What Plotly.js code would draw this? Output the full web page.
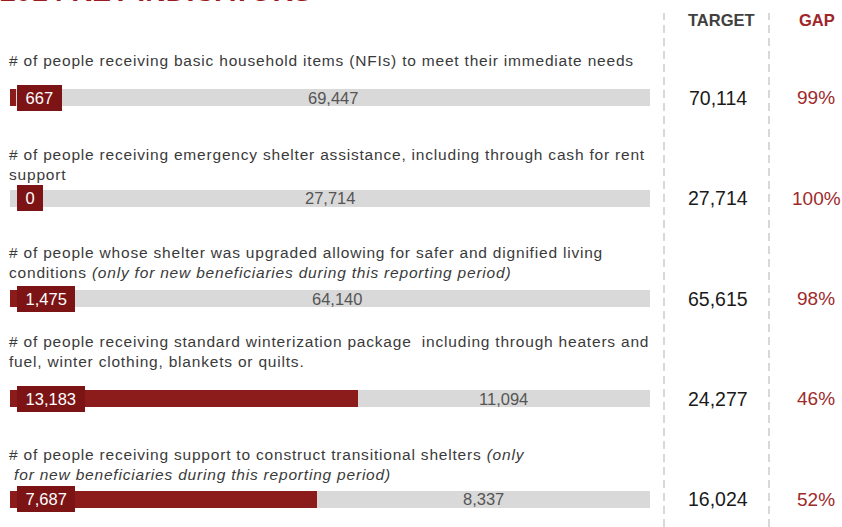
<!DOCTYPE html>
<html>
<head>
<meta charset="utf-8">
<script src="https://cdn.plot.ly/plotly-3.0.1.min.js"></script>
<style>
html,body{margin:0;padding:0;background:#fff;}
#chart{width:842px;height:527px;}
.annotation[data-index="0"] text, .annotation[data-index="1"] text, .annotation[data-index="2"] text,
.annotation[data-index="3"] text, .annotation[data-index="4"] text { letter-spacing: 0.8px; }
</style>
</head>
<body>
<div id="chart"></div>
<script>
// ---- data ----
const categories = ['NFIs', 'Emergency shelter', 'Shelter upgrade', 'Winterization', 'Transitional shelter'];
const indicatorLabels = [
  '# of people receiving basic household items (NFIs) to meet their immediate needs',
  '# of people receiving emergency shelter assistance, including through cash for rent<br>support',
  '# of people whose shelter was upgraded allowing for safer and dignified living<br>conditions <i>(only for new beneficiaries during this reporting period)</i>',
  '# of people receiving standard winterization package  including through heaters and<br>fuel, winter clothing, blankets or quilts.',
  '# of people receiving support to construct transitional shelters <i>(only</i><br> <i>for new beneficiaries during this reporting period)</i>'
];
const achieved = [667, 0, 1475, 13183, 7687];
const remaining = [69447, 27714, 64140, 11094, 8337];
const targets = [70114, 27714, 65615, 24277, 16024];
const gapLabels = ['99%', '100%', '98%', '46%', '52%'];
const titleText = '2014 KEY INDICATORS';

// ---- styling ----
const RED = '#8c1b1c';
const BOX_RED = '#7c1416';
const GREY = '#d9d9d9';
const FONT = 'Liberation Sans, Arial, sans-serif';
const fmt = v => v.toLocaleString('en-US');

// plot area: x from 10px to 650px (640px wide)
const PLOT_L = 10, PLOT_W = 640;
const px2paper = p => (p - PLOT_L) / PLOT_W;
const H = 527;
const py2paper = p => 1 - p / H;

const achFrac = achieved.map((v, i) => v / targets[i]);
const remFrac = remaining.map((v, i) => v / targets[i]);

const traces = [
  {type: 'bar', orientation: 'h', y: categories, x: achFrac, marker: {color: RED}, width: 0.17, hoverinfo: 'skip'},
  {type: 'bar', orientation: 'h', y: categories, x: remFrac, marker: {color: GREY}, width: 0.17, hoverinfo: 'skip'}
];

const annotations = [];
const labelCenters = [60, 164, 262.5, 351.5, 464.5];
indicatorLabels.forEach((t, i) => {
  annotations.push({xref: 'paper', yref: 'paper', x: 0, y: py2paper(labelCenters[i]),
    xanchor: 'left', yanchor: 'middle', xshift: -3, align: 'left', showarrow: false,
    text: t, font: {family: FONT, size: 15.5, color: '#3a3a3a'}});
});
categories.forEach((c, i) => {
  // achieved label box
  annotations.push({xref: 'x', yref: 'y', x: 0, y: i, xanchor: 'left', yanchor: 'middle', xshift: 7,
    showarrow: false, text: '&nbsp;' + fmt(achieved[i]) + '&nbsp;', bgcolor: BOX_RED, borderpad: 4, borderwidth: 0,
    font: {family: FONT, size: 16.5, color: '#ffffff'}});
  // remaining value centred in grey part
  annotations.push({xref: 'x', yref: 'y', x: (achFrac[i] + 1) / 2, y: i, xanchor: 'center', yanchor: 'middle',
    showarrow: false, text: fmt(remaining[i]), font: {family: FONT, size: 16.5, color: '#555555'}});
  // target
  annotations.push({xref: 'paper', yref: 'y', x: px2paper(718), y: i, xanchor: 'center', yanchor: 'middle',
    showarrow: false, text: fmt(targets[i]), font: {family: FONT, size: 19.5, color: '#1a1a1a'}});
  // gap
  annotations.push({xref: 'paper', yref: 'y', x: px2paper(816), y: i, xanchor: 'center', yanchor: 'middle',
    showarrow: false, text: gapLabels[i], font: {family: FONT, size: 19, color: '#9e2a2b'}});
});
// headers
annotations.push({xref: 'paper', yref: 'paper', x: px2paper(721), y: py2paper(20), xanchor: 'center', yanchor: 'middle',
  showarrow: false, text: '<b>TARGET</b>', font: {family: FONT, size: 16.5, color: '#404040'}});
annotations.push({xref: 'paper', yref: 'paper', x: px2paper(817), y: py2paper(20), xanchor: 'center', yanchor: 'middle',
  showarrow: false, text: '<b>GAP</b>', font: {family: FONT, size: 16.5, color: '#a0252a'}});
// cropped title
annotations.push({xref: 'paper', yref: 'paper', x: px2paper(0), y: 1, xanchor: 'left', yanchor: 'bottom', yshift: -9, xshift: -2,
  showarrow: false, text: '<b>' + titleText + '</b>', font: {family: FONT, size: 28.5, color: '#9b1c20'}});

const shapes = [664, 769].map(p => ({type: 'line', xref: 'paper', yref: 'paper',
  x0: px2paper(p), x1: px2paper(p), y0: 0, y1: py2paper(13),
  line: {color: '#c4c4c4', width: 1.3, dash: '8px,5px'}}));

const layout = {
  width: 842, height: 527,
  margin: {l: PLOT_L, r: 842 - PLOT_L - PLOT_W, t: 0, b: 0, pad: 0},
  barmode: 'stack', bargap: 0,
  showlegend: false,
  paper_bgcolor: '#ffffff', plot_bgcolor: '#ffffff',
  xaxis: {range: [0, 1], visible: false, fixedrange: true},
  yaxis: {type: 'category', range: [4.278, -0.976], visible: false, fixedrange: true},
  annotations: annotations,
  shapes: shapes,
  font: {family: FONT}
};

Plotly.newPlot('chart', traces, layout, {displayModeBar: false, staticPlot: true});
</script>
</body>
</html>
